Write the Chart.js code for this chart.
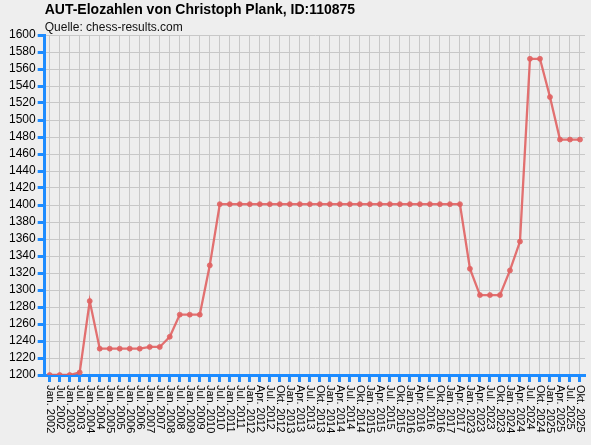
<!DOCTYPE html>
<html>
<head>
<meta charset="utf-8">
<title>AUT-Elozahlen</title>
<script src="https://cdn.jsdelivr.net/npm/chart.js@4/dist/chart.umd.min.js"></script>
<style>
  html, body { margin: 0; padding: 0; background: #eeeeee; }
  #wrap { width: 591px; height: 445px; }
</style>
</head>
<body>
<div id="wrap"><canvas id="eloChart" width="591" height="445"></canvas></div>
<script>
'use strict';

let dateLabels = ['Jan. 2002', 'Jul. 2002', 'Jan. 2003', 'Jul. 2003', 'Jan. 2004', 'Jul. 2004',
  'Jan. 2005', 'Jul. 2005', 'Jan. 2006', 'Jul. 2006', 'Jan. 2007', 'Jul. 2007',
  'Jan. 2008', 'Jul. 2008', 'Jan. 2009', 'Jul. 2009', 'Jan. 2010', 'Jul. 2010',
  'Jan. 2011', 'Jul. 2011', 'Jan. 2012', 'Apr. 2012', 'Jul. 2012', 'Okt. 2012',
  'Jan. 2013', 'Apr. 2013', 'Jul. 2013', 'Okt. 2013', 'Jan. 2014', 'Apr. 2014',
  'Jul. 2014', 'Okt. 2014', 'Jan. 2015', 'Apr. 2015', 'Jul. 2015', 'Okt. 2015',
  'Jan. 2016', 'Apr. 2016', 'Jul. 2016', 'Okt. 2016', 'Jan. 2017', 'Apr. 2017',
  'Jan. 2023', 'Apr. 2023', 'Jul. 2023', 'Okt. 2023', 'Jan. 2024', 'Apr. 2024',
  'Jul. 2024', 'Okt. 2024', 'Jan. 2025', 'Apr. 2025', 'Jul. 2025', 'Okt. 2025'];

let eloValues = [1200, 1200, 1200, 1203, 1287, 1231,
  1231, 1231, 1231, 1231, 1233, 1233,
  1245, 1271, 1271, 1271, 1329, 1401,
  1401, 1401, 1401, 1401, 1401, 1401,
  1401, 1401, 1401, 1401, 1401, 1401,
  1401, 1401, 1401, 1401, 1401, 1401,
  1401, 1401, 1401, 1401, 1401, 1401,
  1325, 1294, 1294, 1294, 1323, 1357,
  1572, 1572, 1527, 1477, 1477, 1477];

let yMin = 1200;
let yMax = 1600;
let yStep = 20;

let fontFamily = '"Liberation Sans", Arial, sans-serif';
let axisBlue = '#1e8cff';

// x labels read top to bottom, chart.js only rotates the other way
let downLabels = {
  id: 'downLabels',
  afterDraw(chart) {
    let scale = chart.scales.x;
    let ctx = chart.ctx;
    ctx.save();
    ctx.font = '11px ' + fontFamily;
    ctx.fillStyle = '#000000';
    ctx.textAlign = 'left';
    ctx.textBaseline = 'middle';
    for (let i = 0; i < dateLabels.length; i++) {
      let x = scale.getPixelForTick(i);
      ctx.save();
      ctx.translate(x, scale.top + 10);
      ctx.rotate(Math.PI / 2);
      ctx.fillText(dateLabels[i], 0, 0);
      ctx.restore();
    }
    ctx.restore();
  }
};

let ctx = document.getElementById('eloChart').getContext('2d');
let eloChart = new Chart(ctx, {
  type: 'line',
  data: {
    labels: dateLabels,
    datasets: [{
      label: 'Elo',
      data: eloValues,
      borderColor: 'rgba(224, 98, 98, 0.9)',
      backgroundColor: 'rgba(224, 98, 98, 0.9)',
      borderWidth: 2.3,
      pointRadius: 2.5,
      pointBorderWidth: 0.8,
      tension: 0
    }]
  },
  options: {
    responsive: false,
    animation: false,
    devicePixelRatio: 1,
    layout: {
      padding: { left: 7, right: 6, top: 0, bottom: 63 }
    },
    plugins: {
      legend: { display: false },
      tooltip: { enabled: false },
      title: {
        display: true,
        text: 'AUT-Elozahlen von Christoph Plank, ID:110875',
        align: 'start',
        fullSize: false,
        color: '#000000',
        font: { family: fontFamily, size: 14, weight: 'bold', lineHeight: 1.2 },
        padding: { top: 2, bottom: 0 }
      },
      subtitle: {
        display: true,
        text: 'Quelle: chess-results.com',
        align: 'start',
        fullSize: false,
        color: '#111111',
        font: { family: fontFamily, size: 12, lineHeight: 1.2 },
        padding: { top: 1.5, bottom: 0.3 }
      }
    },
    scales: {
      x: {
        type: 'category',
        offset: true,
        grid: {
          color: '#c8c8c8',
          lineWidth: 1,
          offset: false,
          drawTicks: true,
          tickLength: 7,
          tickColor: axisBlue,
          tickWidth: 3
        },
        border: { color: axisBlue, width: 3 },
        ticks: { display: false }
      },
      y: {
        min: yMin,
        max: yMax,
        grid: {
          color: '#c8c8c8',
          lineWidth: 1,
          tickLength: 7,
          tickColor: axisBlue,
          tickWidth: 3
        },
        border: { color: axisBlue, width: 3 },
        ticks: {
          stepSize: yStep,
          autoSkip: false,
          maxTicksLimit: 30,
          padding: 2,
          color: '#000000',
          font: { family: fontFamily, size: 12 },
          callback: function (value) {
            return String(value);
          }
        }
      }
    }
  },
  plugins: [downLabels]
});
</script>
</body>
</html>
